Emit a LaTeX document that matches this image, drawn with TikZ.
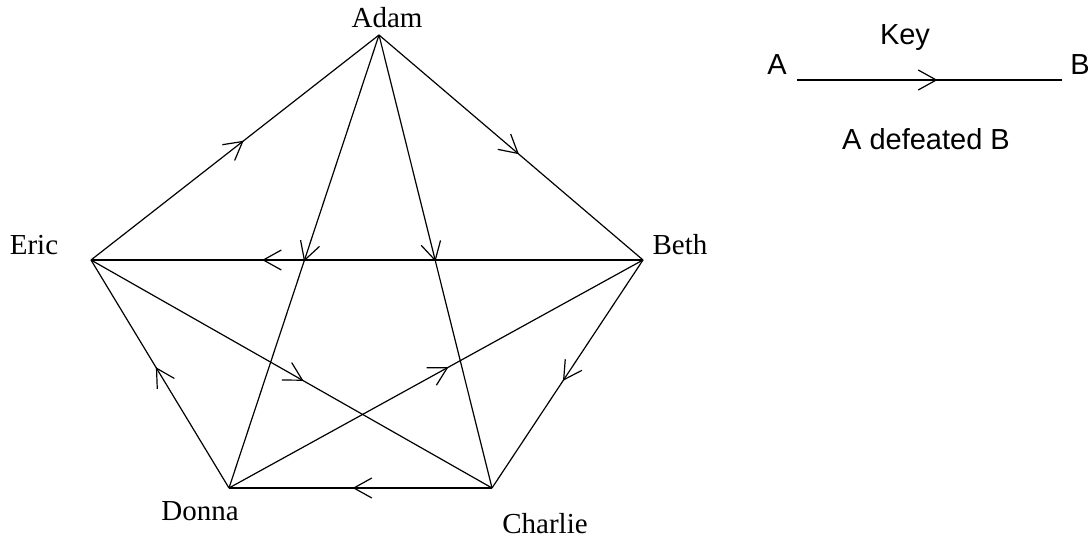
\documentclass[tikz,border=0pt]{standalone}
\usepackage{fontspec}
\setmainfont{Liberation Serif}
\newfontfamily\keyfont{Liberation Sans}
\usetikzlibrary{arrows.meta,decorations.markings}
\tikzset{
  edge/.style={line width=1.2pt, black, postaction={decorate},
    decoration={markings, mark=at position #1 with {\arrow{Straight Barb[length=18pt,width=20pt,line width=1.2pt]}}}},
  edge/.default=0.53,
  person/.style={anchor=base, inner sep=0pt, font=\fontsize{29}{34}\selectfont},
  keytext/.style={anchor=base, inner sep=0pt, font=\keyfont\fontsize{29}{34}\selectfont}
}
\begin{document}
\begin{tikzpicture}[x=1pt,y=-1pt]
\useasboundingbox (0,0) rectangle (1092,545);
% vertices
\coordinate (adam) at (379,35);
\coordinate (beth) at (643,260);
\coordinate (charlie) at (492,488);
\coordinate (donna) at (229,488);
\coordinate (eric) at (91,260);
% labels
\node[person] (adamL) at (387,28) {Adam};
\node[person] (ericL) at (34,255) {Eric};
\node[person] (bethL) at (680,255) {Beth};
\node[person] (donnaL) at (200,520) {Donna};
\node[person] (charlieL) at (545,533) {Charlie};
% edges
\draw[edge] (eric) -- (adam);
\draw[edge] (adam) -- (beth);
\draw[edge=0.69] (beth) -- (eric);
\draw[edge=0.5] (adam) -- (donna);
\draw[edge=0.5] (adam) -- (charlie);
\draw[edge] (beth) -- (charlie);
\draw[edge] (charlie) -- (donna);
\draw[edge] (donna) -- (eric);
\draw[edge] (eric) -- (charlie);
\draw[edge] (donna) -- (beth);
% key
\node[keytext] (keyT) at (905,45) {Key};
\node[keytext] (keyAL) at (777,75) {A};
\node[keytext] (keyBL) at (1080,75) {B};
\node[keytext] (keyD) at (926,150) {A defeated B};
\coordinate (keyA) at (797,80);
\coordinate (keyB) at (1062,80);
\draw[edge] (keyA) -- (keyB);
\end{tikzpicture}
\end{document}
